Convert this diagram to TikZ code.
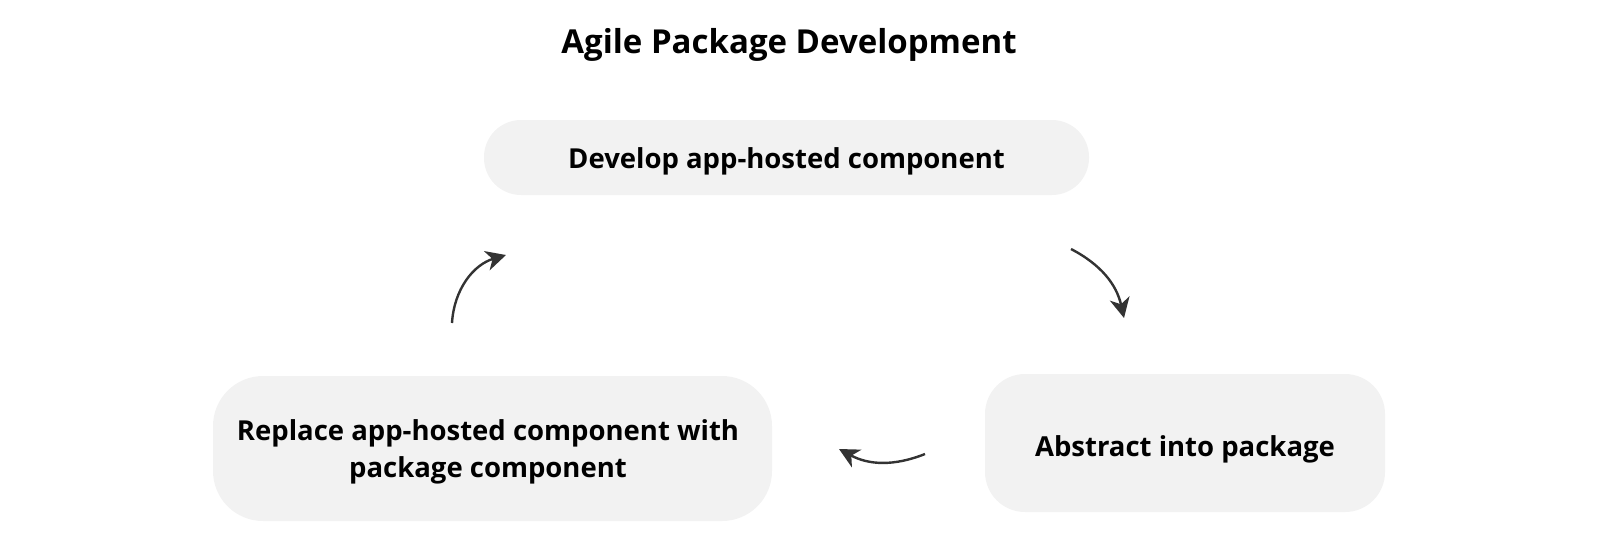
\documentclass[tikz,border=0pt]{standalone}
\usepackage{fontspec}
\setmainfont{Open Sans}
\usetikzlibrary{arrows.meta}
\definecolor{boxfill}{HTML}{F2F2F2}
\definecolor{arrowcol}{HTML}{333333}
\tikzset{
  stagebox/.style={fill=boxfill, draw=none, minimum width=#1, inner sep=0pt},
  stagetext/.style={font=\fontsize{27.5}{37}\selectfont\bfseries, align=center, inner sep=0pt},
  cyclearrow/.style={draw=arrowcol, line width=2.4pt, -{Stealth[length=20pt, width=20pt, inset=6pt]}},
}
\begin{document}
\begin{tikzpicture}[x=1pt,y=-1pt]
\useasboundingbox (0,0) rectangle (1600,542);
\node[font=\fontsize{33}{40}\selectfont\bfseries] (title) at (789,45) {Agile Package Development};
\node[stagebox=605pt, minimum height=75pt, rounded corners=37pt] (dev) at (786.5,157.5) {};
\node[stagetext] (devt) at (786.5,161.5) {Develop app-hosted component};
\node[stagebox=400pt, minimum height=138pt, rounded corners=40pt] (abs) at (1185,443) {};
\node[stagetext] (abst) at (1185,449) {Abstract into package};
\node[stagebox=559pt, minimum height=145pt, rounded corners=50pt] (rep) at (492.5,448.5) {};
\node[stagetext] (rept) at (488,452) {Replace app-hosted component with\\package component};
\coordinate (a1s) at (1071,249);
\coordinate (a1e) at (1124,318);
\coordinate (a2s) at (925,454);
\coordinate (a2e) at (839,449);
\coordinate (a3s) at (452,323);
\coordinate (a3e) at (506,255);
\draw[cyclearrow] (a1s) to[bend left=25] (a1e);
\draw[cyclearrow] (a2s) to[bend left=25] (a2e);
\draw[cyclearrow] (a3s) to[bend left=35] (a3e);
\end{tikzpicture}
\end{document}
